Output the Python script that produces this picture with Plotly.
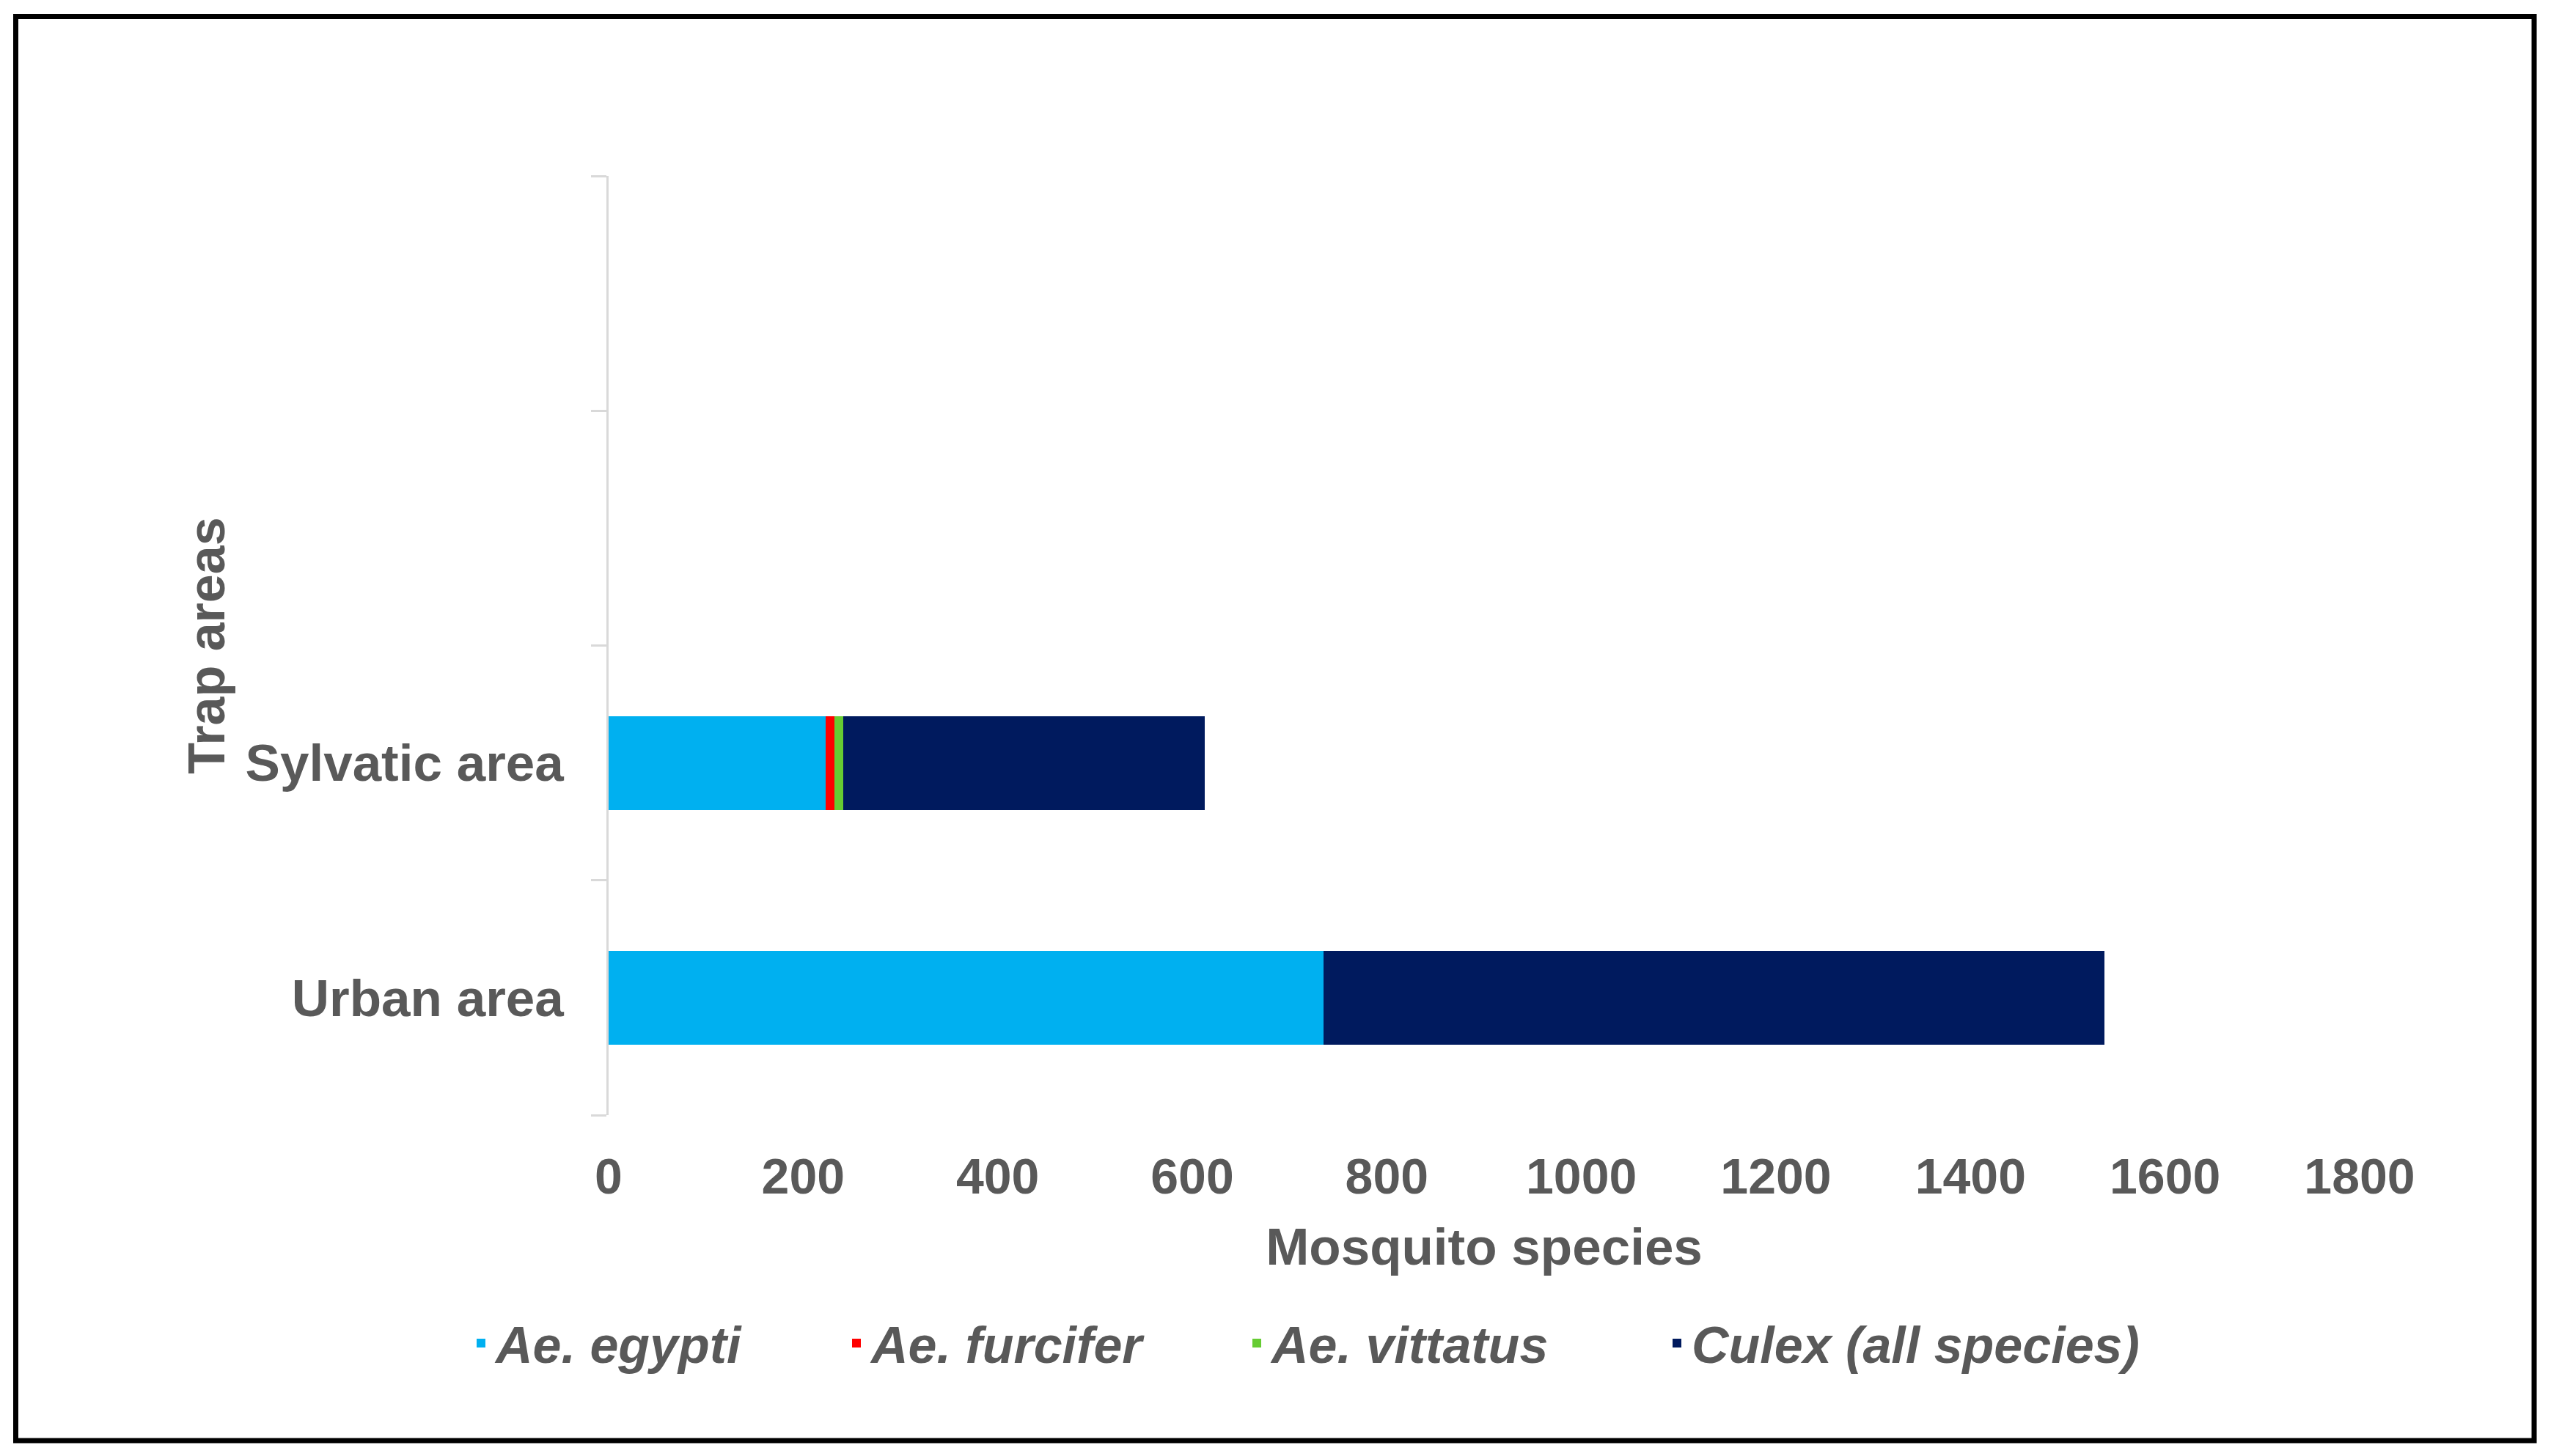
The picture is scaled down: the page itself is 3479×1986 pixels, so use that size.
import plotly.graph_objects as go

# ---- data ----
areas = ["Urban area", "Sylvatic area", " ", "  "]  # two empty category slots as in the original
ae_egypti = [735, 223, None, None]
ae_furcifer = [0, 9, None, None]
ae_vittatus = [0, 9, None, None]
culex_all = [803, 372, None, None]

series_names = ["Ae. egypti", "Ae. furcifer", "Ae. vittatus", "Culex (all species)"]
series_values = [ae_egypti, ae_furcifer, ae_vittatus, culex_all]
series_colors = ["#00B0F0", "#FF0000", "#66CC33", "#001A5E"]

x_ticks = [0, 200, 400, 600, 800, 1000, 1200, 1400, 1600, 1800]

# ---- layout geometry (page pixels; the html body adds an 8px margin) ----
PAGE_W, PAGE_H = 3479, 1986
OFF = 8
PLOT_L, PLOT_R, PLOT_T, PLOT_B = 830, 3218, 240, 1521  # plot area in page pixels
W, H = PAGE_W - OFF, PAGE_H - OFF
L = PLOT_L - OFF
T = PLOT_T - OFF
R = W - (PLOT_R - OFF)
B = H - (PLOT_B - OFF)
plotW = PLOT_R - PLOT_L
plotH = PLOT_B - PLOT_T

def px_x(p):
    return (p - PLOT_L) / plotW

def px_y(p):
    return (PLOT_B - p) / plotH

FONT = "Liberation Sans, Arial, sans-serif"
GREY = "#595959"

# legend entry left edges (page px), one small legend per series
legend_left = [636, 1148, 1694, 2267]
legend_ids = ["legend", "legend2", "legend3", "legend4"]

fig = go.Figure()
for name, vals, col, lid in zip(series_names, series_values, series_colors, legend_ids):
    fig.add_trace(go.Bar(
        y=areas, x=vals, name=name, orientation="h",
        marker=dict(color=col, line=dict(width=0)),
        legend=lid,
    ))

legend_font = dict(family=FONT, size=70, color=GREY, weight="bold", style="italic")
legend_layouts = {}
for lid, lx in zip(legend_ids, legend_left):
    legend_layouts[lid] = dict(
        orientation="h", x=px_x(lx), xanchor="left",
        y=px_y(1832), yanchor="middle",
        font=legend_font, itemwidth=30, bgcolor="rgba(0,0,0,0)",
    )

fig.update_layout(
    width=W, height=H,
    margin=dict(l=L, r=R, t=T, b=B, autoexpand=False),
    paper_bgcolor="white", plot_bgcolor="white",
    barmode="stack", bargap=0.6,
    font=dict(family=FONT, color=GREY, size=70),
    showlegend=True,
    **legend_layouts,
    xaxis=dict(
        range=[0, 1800], tickvals=x_ticks, showgrid=False, zeroline=False,
        showline=False, ticks="", ticklabelstandoff=38,
        tickfont=dict(family=FONT, size=68, color=GREY, weight="bold"),
        title=dict(text="Mosquito species", standoff=34,
                   font=dict(family=FONT, size=71, color=GREY, weight="bold")),
        fixedrange=True,
    ),
    yaxis=dict(
        type="category", categoryorder="array", categoryarray=areas,
        range=[-0.5, 3.5], showgrid=False, zeroline=False,
        showline=True, linecolor="#D9D9D9", linewidth=3,
        ticks="outside", tickson="boundaries", ticklen=21, tickcolor="#D9D9D9", tickwidth=3,
        ticklabelstandoff=44,
        tickfont=dict(family=FONT, size=71, color=GREY, weight="bold"),
        title=dict(text="Trap areas", standoff=6,
                   font=dict(family=FONT, size=70, color=GREY, weight="bold")),
        fixedrange=True,
    ),
    shapes=[dict(
        type="rect", xref="paper", yref="paper",
        x0=px_x(21.5), x1=px_x(3456), y0=px_y(1965), y1=px_y(22.5),
        line=dict(color="black", width=7), fillcolor="rgba(0,0,0,0)", layer="above",
    )],
)

fig.write_html("out.html")
